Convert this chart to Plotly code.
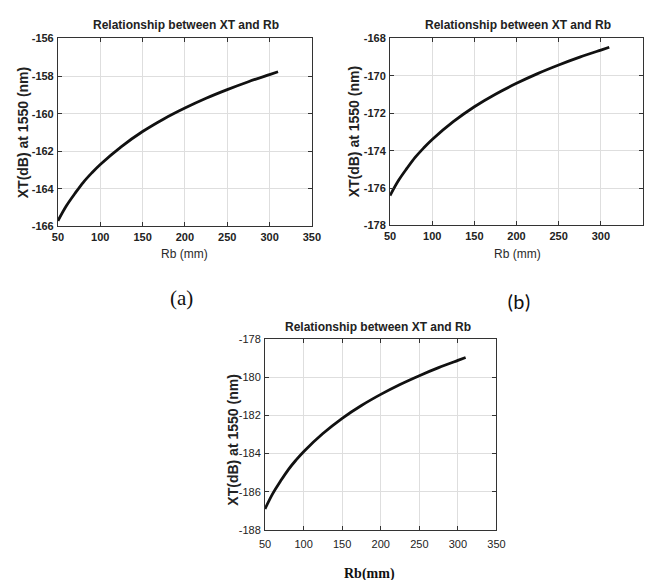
import plotly.graph_objects as go

rb = [50, 60, 70, 80, 90, 100, 125, 150, 175, 200, 225, 250, 275, 300, 310]
xt_a = [-165.7, -164.9, -164.25, -163.65, -163.15, -162.7, -161.75, -160.95, -160.28, -159.7, -159.18, -158.72, -158.3, -157.92, -157.77]
xt_b = [-176.4, -175.6, -174.95, -174.35, -173.85, -173.4, -172.45, -171.65, -170.98, -170.4, -169.88, -169.42, -169.0, -168.62, -168.47]
xt_c = [-186.9, -186.1, -185.45, -184.85, -184.35, -183.9, -182.95, -182.15, -181.48, -180.9, -180.38, -179.92, -179.5, -179.12, -178.97]

x_ticks = [50, 100, 150, 200, 250, 300, 350]
y_ticks_a = [-166, -164, -162, -160, -158, -156]
y_ticks_b = [-178, -176, -174, -172, -170, -168]
y_ticks_c = [-188, -186, -184, -182, -180, -178]

title = "Relationship between XT and Rb"
ylab = "XT(dB) at 1550 (nm)"

# page body has an 8px margin: figure is drawn 8px in from the window edge
OFF = 8
W, H = 660 - 2 * OFF, 588 - 2 * OFF
def px(v): return min(max((v - OFF) / W, 0.0), 1.0)
def py(v): return min(max(1 - (v - OFF) / H, 0.0), 1.0)

fig = go.Figure()
panels = [
    (xt_a, y_ticks_a, (53, 313), (33, 225), "bold", 0),
    (xt_b, y_ticks_b, (393, 653), (33, 224), "bold", 0),
    (xt_c, y_ticks_c, (265, 502), (340, 535), "normal", 4),
]
for i, (yv, yt, (x0, x1), (y0, y1), wt, xstand) in enumerate(panels, start=1):
    sfx = "" if i == 1 else str(i)
    tickfont = dict(family="Liberation Sans, Arial", size=11, color="#222222", weight=wt)
    fig.add_trace(go.Scatter(x=rb, y=yv, mode="lines",
                             line=dict(color="#111111", width=2.8, shape="spline"),
                             xaxis="x" + sfx, yaxis="y" + sfx, showlegend=False))
    common = dict(showgrid=True, gridcolor="#dedede", gridwidth=1,
                  showline=True, linecolor="#333333", linewidth=1, mirror="ticks",
                  ticks="inside", ticklen=4, tickcolor="#333333",
                  zeroline=False, tickfont=tickfont, fixedrange=True)
    fig.layout["xaxis" + sfx] = dict(domain=[px(x0), px(x1)], range=[50, 350],
                                     tickvals=x_ticks, ticktext=[str(v) for v in x_ticks],
                                     ticklabelstandoff=xstand,
                                     anchor="y" + sfx, **common)
    fig.layout["yaxis" + sfx] = dict(domain=[py(y1), py(y0)], range=[yt[0], yt[-1]],
                                     tickvals=yt, ticktext=[str(v) for v in yt],
                                     ticklabelstandoff=1,
                                     anchor="x" + sfx, **common)

ann = []
def add(text, x, y, size=11, family="Liberation Sans, Arial", bold=True, angle=0,
        color="#222222", yanchor="middle"):
    t = f"<b>{text}</b>" if bold else text
    ann.append(dict(text=t, x=px(x), y=py(y), xref="paper", yref="paper",
                    xanchor="center", yanchor=yanchor, showarrow=False,
                    textangle=angle, font=dict(family=family, size=size, color=color)))

add(title, 184, 19, size=12)
add(title, 524, 19, size=12)
add(title, 381, 328, size=12)
add(ylab, 18, 129, size=14, angle=-90)
add(ylab, 357, 128, size=14, angle=-90)
add(ylab, 232, 443, size=14, angle=-90)
add("Rb (mm)", 183, 253, size=12, bold=False, color="#2a2a2a")
add("Rb (mm)", 523, 253, size=12, bold=False, color="#2a2a2a")
add("Rb(mm)", 372, 580, size=14, family="Liberation Serif, Times New Roman", bold=True,
    color="#111111")
add("(a)", 180, 298, size=21, family="Liberation Serif, Times New Roman", bold=False, color="#111111")
add("(b)", 525, 302, size=21, family="Carlito, Liberation Sans, Arial", bold=False, color="#111111")

fig.update_layout(width=W, height=H, margin=dict(l=0, r=0, t=0, b=0),
                  paper_bgcolor="white", plot_bgcolor="white", annotations=ann)
fig.write_html("out.html")
